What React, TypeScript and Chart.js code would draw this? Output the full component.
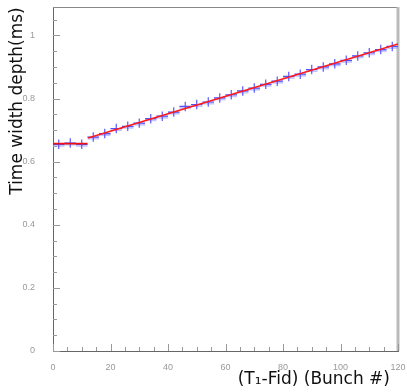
import React, { useEffect, useRef } from "react";
import { Chart, registerables } from "chart.js";

Chart.register(...registerables);

// Bin centres (Bunch #) and measured values
const xCenters = [2, 6, 10, 14, 18, 22, 26, 30, 34, 38, 42, 46, 50, 54, 58, 62, 66, 70, 74, 78, 82, 86, 90, 94, 98, 102, 106, 110, 114, 118];
const yValues = [0.655, 0.659, 0.655, 0.678, 0.689, 0.705, 0.712, 0.722, 0.736, 0.744, 0.757, 0.775, 0.781, 0.789, 0.802, 0.812, 0.824, 0.833, 0.845, 0.855, 0.870, 0.877, 0.892, 0.900, 0.910, 0.921, 0.935, 0.945, 0.955, 0.965];
const xHalfWidths = [2, 2, 2, 2, 2, 2, 2, 2, 2, 2, 2, 2, 2, 2, 2, 2, 2, 2, 2, 2, 2, 2, 2, 2, 2, 2, 2, 2, 2, 2];
const yErrors = [0.015, 0.015, 0.015, 0.015, 0.015, 0.015, 0.015, 0.015, 0.015, 0.015, 0.015, 0.015, 0.015, 0.015, 0.015, 0.015, 0.015, 0.015, 0.015, 0.015, 0.015, 0.015, 0.015, 0.015, 0.015, 0.015, 0.015, 0.015, 0.015, 0.015];

// Fit lines
const flatFitX = [0, 12];
const flatFitY = [0.657, 0.657];
const slopeFitX = [12.2, 120];
const slopeFitY = [0.675, 0.973];

// Ticks
const xTicks = [0, 20, 40, 60, 80, 100, 120];
const yTicks = [0, 0.2, 0.4, 0.6, 0.8, 1];
const xMinorTicks = [5, 10, 15, 25, 30, 35, 45, 50, 55, 65, 70, 75, 85, 90, 95, 105, 110, 115];
const yMinorTicks = [0.05, 0.1, 0.15, 0.25, 0.3, 0.35, 0.45, 0.5, 0.55, 0.65, 0.7, 0.75, 0.85, 0.9, 0.95, 1.05];

const xTitle = "(T\u2081-Fid) (Bunch #)";
const yTitle = "Time width depth(ms)";

const decorPlugin = {
  id: "decor",
  beforeDatasetsDraw(chart: any) {
    const { ctx, chartArea, scales } = chart;
    const xs = scales.x;
    const ys = scales.y;
    ctx.save();
    // frame top and right
    ctx.strokeStyle = "#888";
    ctx.lineWidth = 1;
    ctx.beginPath();
    ctx.moveTo(chartArea.left, chartArea.top + 0.5);
    ctx.lineTo(chartArea.right, chartArea.top + 0.5);
    ctx.stroke();
    ctx.strokeStyle = "#bbb";
    ctx.lineWidth = 3;
    ctx.beginPath();
    ctx.moveTo(chartArea.right, chartArea.top);
    ctx.lineTo(chartArea.right, chartArea.bottom);
    ctx.stroke();
    // inward ticks
    ctx.strokeStyle = "#999";
    ctx.lineWidth = 1;
    ctx.beginPath();
    yTicks.forEach((v) => {
      const py = Math.round(ys.getPixelForValue(v)) + 0.5;
      ctx.moveTo(chartArea.left, py);
      ctx.lineTo(chartArea.left + 7, py);
    });
    yMinorTicks.forEach((v) => {
      const py = Math.round(ys.getPixelForValue(v)) + 0.5;
      ctx.moveTo(chartArea.left, py);
      ctx.lineTo(chartArea.left + 4, py);
    });
    xTicks.forEach((v) => {
      const px = Math.round(xs.getPixelForValue(v)) + 0.5;
      ctx.moveTo(px, chartArea.bottom);
      ctx.lineTo(px, chartArea.bottom - 7);
    });
    xMinorTicks.forEach((v) => {
      const px = Math.round(xs.getPixelForValue(v)) + 0.5;
      ctx.moveTo(px, chartArea.bottom);
      ctx.lineTo(px, chartArea.bottom - 4);
    });
    ctx.stroke();
    // error-bar crosses
    xCenters.forEach((xc, i) => {
      const y = yValues[i];
      const x0 = xs.getPixelForValue(xc - xHalfWidths[i]);
      const x1 = xs.getPixelForValue(xc + xHalfWidths[i]);
      const px = xs.getPixelForValue(xc);
      const py = ys.getPixelForValue(y);
      const y0 = ys.getPixelForValue(y - yErrors[i]);
      const y1 = ys.getPixelForValue(y + yErrors[i]);
      ctx.strokeStyle = "rgba(150,150,255,0.55)";
      ctx.lineWidth = 3;
      ctx.beginPath();
      ctx.moveTo(x0, py + 1);
      ctx.lineTo(x1, py + 1);
      ctx.stroke();
      ctx.strokeStyle = "rgba(70,70,255,0.9)";
      ctx.lineWidth = 1.2;
      ctx.beginPath();
      ctx.moveTo(x0, py);
      ctx.lineTo(x1, py);
      ctx.moveTo(px, y0);
      ctx.lineTo(px, y1);
      ctx.stroke();
    });
    ctx.restore();
  },
  afterDraw(chart: any) {
    const { ctx } = chart;
    ctx.save();
    ctx.fillStyle = "#111";
    ctx.font = "17px 'DejaVu Sans'";
    ctx.textAlign = "right";
    ctx.textBaseline = "middle";
    ctx.fillText(xTitle, 390, 380);
    ctx.translate(18, 101);
    ctx.rotate(-Math.PI / 2);
    ctx.textAlign = "center";
    ctx.fillText(yTitle, 0, 0);
    ctx.restore();
  },
};

const zeroPad = (s: any) => {
  s.paddingTop = 0;
  s.paddingBottom = 0;
  s.paddingLeft = 0;
  s.paddingRight = 0;
};

export default function App() {
  const ref = useRef<HTMLCanvasElement | null>(null);
  useEffect(() => {
    document.body.style.margin = "0";
    const canvas = ref.current;
    if (!canvas) return;
    const chart = new Chart(canvas, {
      type: "scatter",
      data: {
        datasets: [
          {
            label: "data",
            data: xCenters.map((x, i) => ({ x, y: yValues[i] })),
            pointRadius: 0,
            showLine: false,
          },
          {
            label: "flat fit",
            data: flatFitX.map((x, i) => ({ x, y: flatFitY[i] })),
            showLine: true,
            borderColor: "#ee1111",
            borderWidth: 1.6,
            pointRadius: 0,
          },
          {
            label: "linear fit",
            data: slopeFitX.map((x, i) => ({ x, y: slopeFitY[i] })),
            showLine: true,
            borderColor: "#ff1a1a",
            borderWidth: 1.6,
            pointRadius: 0,
          },
        ],
      },
      options: {
        animation: false,
        responsive: false,
        layout: { padding: { left: 0, right: 9, top: 7, bottom: 0 } },
        plugins: { legend: { display: false }, tooltip: { enabled: false } },
        scales: {
          x: {
            type: "linear",
            min: 0,
            max: 120,
            grid: { display: false },
            border: { display: true, color: "#666", width: 1 },
            afterBuildTicks: (s: any) => {
              s.ticks = xTicks.map((v) => ({ value: v }));
            },
            afterFit: (s: any) => {
              s.height = 41;
              zeroPad(s);
            },
            ticks: {
              padding: 3,
              color: "#999",
              font: { family: "'Liberation Sans'", size: 9 },
              maxRotation: 0,
              callback: (v: any) => String(v),
            },
          },
          y: {
            type: "linear",
            min: 0,
            max: 1.09,
            grid: { display: false },
            border: { display: true, color: "#666", width: 1 },
            afterBuildTicks: (s: any) => {
              s.ticks = yTicks.map((v) => ({ value: v }));
            },
            afterFit: (s: any) => {
              s.width = 53;
              zeroPad(s);
            },
            ticks: {
              padding: 10,
              color: "#999",
              font: { family: "'Liberation Sans'", size: 9 },
              callback: (v: any) => String(v),
            },
          },
        },
      },
      plugins: [decorPlugin],
    } as any);
    return () => chart.destroy();
  }, []);
  return (
    <div style={{ width: 407, height: 392 }}>
      <canvas ref={ref} width={407} height={392} style={{ width: 407, height: 392, display: "block" }} />
    </div>
  );
}
